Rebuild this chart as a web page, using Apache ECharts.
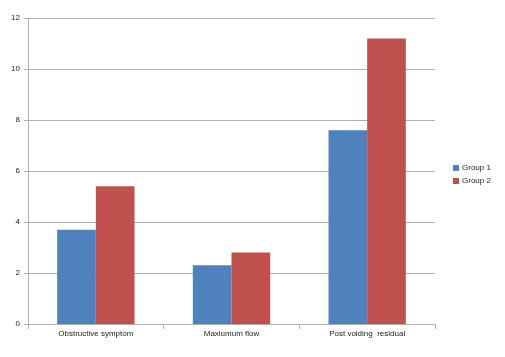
<!DOCTYPE html>
<html><head><meta charset="utf-8">
<script src="https://cdn.jsdelivr.net/npm/echarts@6/dist/echarts.min.js"></script>
<style>html,body{margin:0;padding:0;background:#fff}#c{width:505px;height:357px}</style>
</head><body><div id="c"></div>
<script>
const categories = ["Obstructive symptom", "Maxiumum flow", "Post voiding  residual"];
const group1 = [3.7, 2.3, 7.6];
const group2 = [5.4, 2.8, 11.2];
const seriesNames = ["Group 1", "Group 2"];

const chart = echarts.init(document.getElementById('c'));
const font = 'Liberation Sans, Arial, sans-serif';
chart.setOption({
  animation: false,
  grid: {left: 28, right: 70, top: 18, bottom: 33, containLabel: false},
  legend: {
    orient: 'vertical', left: 448, top: 159,
    itemWidth: 6, itemHeight: 6, itemGap: 5,
    icon: 'rect',
    textStyle: {fontSize: 8, fontFamily: font, color: '#222', padding: [0,0,0,-2]},
    data: seriesNames
  },
  xAxis: {
    type: 'category', data: categories,
    axisLine: {lineStyle: {color: '#b0b0b0'}},
    axisTick: {show: true, alignWithLabel: false, length: 5, lineStyle: {color: '#b0b0b0'}},
    axisLabel: {fontSize: 8, fontFamily: font, color: '#222', margin: 6}
  },
  yAxis: {
    type: 'value', min: 0, max: 12, interval: 2,
    axisLine: {show: true, lineStyle: {color: '#b0b0b0'}},
    axisTick: {show: true, length: 4, lineStyle: {color: '#b0b0b0'}},
    splitLine: {lineStyle: {color: '#b0b0b0'}},
    axisLabel: {fontSize: 8, fontFamily: font, color: '#222', margin: 8}
  },
  series: [
    {name: seriesNames[0], type: 'bar', data: group1, barGap: '0%', barCategoryGap: '43%', itemStyle: {color: '#4f81bd'}},
    {name: seriesNames[1], type: 'bar', data: group2, barGap: '0%', barCategoryGap: '43%', itemStyle: {color: '#c0504d'}}
  ]
});
</script></body></html>
